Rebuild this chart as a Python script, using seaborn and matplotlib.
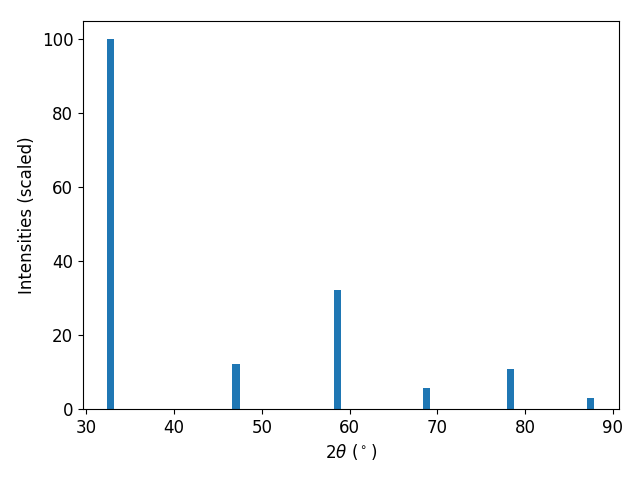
import matplotlib
matplotlib.use("Agg")
import matplotlib.pyplot as plt
import seaborn as sns
import numpy as np
import pandas as pd

two_theta = [32.79, 47.05, 58.58, 68.74, 78.33, 87.46]
intensity = [100.0, 12.2, 32.1, 5.7, 10.9, 3.0]

plt.rcParams['font.size'] = 12
fig, ax = plt.subplots(figsize=(6.4, 4.8), dpi=100)
df = pd.DataFrame({"two_theta": two_theta, "intensity": intensity})
min_gap = np.min(np.diff(np.sort(two_theta)))
sns.barplot(data=df, x="two_theta", y="intensity", native_scale=True,
            width=0.8 / min_gap, color="#1f77b4", saturation=1, ax=ax,
            errorbar=None, linewidth=0)
ax.set_xlabel(r"$2\theta$ ($^\circ$)")
ax.set_ylabel("Intensities (scaled)")
fig.subplots_adjust(left=83/640, right=618.5/640, top=1-21/480, bottom=1-409/480)
fig.savefig("out.png")
